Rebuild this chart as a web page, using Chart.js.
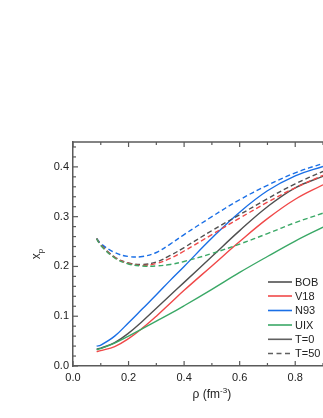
<!DOCTYPE html>
<html>
<head>
<meta charset="utf-8">
<script src="https://cdn.jsdelivr.net/npm/chart.js@4"></script>
<style>
html,body{margin:0;padding:0;background:#fff;overflow:hidden;}
#wrap{width:323px;height:418px;position:relative;}
</style>
</head>
<body>
<div id="wrap"><canvas id="c" width="323" height="418"></canvas></div>
<script>
// density grid (fm^-3)
const rho = [0.085, 0.1, 0.15, 0.2, 0.25, 0.3, 0.35, 0.4, 0.5, 0.6, 0.7, 0.8, 0.9];
// T = 0
const bobT0 = [0.034, 0.036, 0.047, 0.066, 0.090, 0.116, 0.142, 0.168, 0.220, 0.272, 0.320, 0.358, 0.381];
const v18T0 = [0.029, 0.031, 0.039, 0.055, 0.076, 0.100, 0.126, 0.152, 0.201, 0.250, 0.296, 0.335, 0.364];
const n93T0 = [0.040, 0.042, 0.060, 0.087, 0.115, 0.143, 0.172, 0.200, 0.257, 0.309, 0.352, 0.382, 0.401];
const uixT0 = [0.033, 0.035, 0.046, 0.060, 0.075, 0.090, 0.105, 0.121, 0.154, 0.188, 0.220, 0.251, 0.279];
// T = 50
const bobT50 = [0.256, 0.244, 0.219, 0.207, 0.204, 0.209, 0.222, 0.238, 0.272, 0.304, 0.336, 0.366, 0.391];
const v18T50 = [0.256, 0.243, 0.218, 0.206, 0.202, 0.206, 0.216, 0.231, 0.264, 0.297, 0.329, 0.358, 0.383];
const n93T50 = [0.256, 0.246, 0.228, 0.220, 0.220, 0.228, 0.245, 0.264, 0.300, 0.334, 0.363, 0.388, 0.407];
const uixT50 = [0.256, 0.242, 0.217, 0.205, 0.201, 0.201, 0.204, 0.210, 0.226, 0.245, 0.266, 0.288, 0.307];

const xTicks = [0, 0.2, 0.4, 0.6, 0.8];
const yTicks = [0, 0.1, 0.2, 0.3, 0.4];
const legendLabels = ['BOB', 'V18', 'N93', 'UIX', 'T=0', 'T=50'];

const COL = {bob:'#505050', v18:'#f04848', n93:'#1a6fe6', uix:'#3aa866', gray:'#606060'};
const FONT = '"Liberation Sans", Arial, sans-serif';

function pts(arr){ return rho.map((r,i)=>({x:r, y:arr[i]})); }
function ds(arr, color, dashed){
  return {data: pts(arr), borderColor: color, borderWidth: 1.4, pointRadius: 0,
    borderDash: dashed ? [5,3] : [], tension: 0.4, fill: false};
}

const datasets = [
  ds(uixT50, COL.uix, true), ds(v18T50, COL.v18, true), ds(bobT50, COL.bob, true), ds(n93T50, COL.n93, true),
  ds(uixT0, COL.uix, false), ds(v18T0, COL.v18, false), ds(bobT0, COL.bob, false), ds(n93T0, COL.n93, false)
];

const AX = '#5a5a5a';

const deco = {
  id: 'deco',
  afterDraw(chart){
    const ctx = chart.ctx, a = chart.chartArea;
    const xs = chart.scales.x, ys = chart.scales.y;
    ctx.save();
    ctx.strokeStyle = AX; ctx.lineWidth = 1.5;
    ctx.beginPath(); ctx.moveTo(a.left, a.top); ctx.lineTo(a.right+2, a.top); ctx.stroke();
    ctx.lineWidth = 1.2;
    for (let k=0; k<=9; k++){
      const v = k*0.1, px = xs.getPixelForValue(v);
      const len = (k%2===0) ? 5 : 3;
      if (px > a.right+1) continue;
      ctx.beginPath(); ctx.moveTo(px, a.bottom); ctx.lineTo(px, a.bottom-len); ctx.stroke();
      ctx.beginPath(); ctx.moveTo(px, a.top); ctx.lineTo(px, a.top+len); ctx.stroke();
    }
    for (let k=0; k<=22; k++){
      const v = k*0.02, py = ys.getPixelForValue(v);
      const len = (k%5===0) ? 5 : 3;
      ctx.beginPath(); ctx.moveTo(a.left, py); ctx.lineTo(a.left+len, py); ctx.stroke();
    }
    ctx.fillStyle = '#222';
    ctx.textBaseline = 'alphabetic';
    const cx = xs.getPixelForValue(0.5);
    const p1 = 'ρ (fm', p3 = ')';
    ctx.font = '12px ' + FONT; const w1 = ctx.measureText(p1).width, w3 = ctx.measureText(p3).width;
    ctx.font = '8px ' + FONT; const w2 = ctx.measureText('-3').width;
    let x0 = cx - (w1+w2+w3)/2, by = 398;
    ctx.textAlign = 'left';
    ctx.font = '12px ' + FONT; ctx.fillText(p1, x0, by);
    ctx.font = '8px ' + FONT; ctx.fillText('-3', x0+w1, by-5);
    ctx.font = '12px ' + FONT; ctx.fillText(p3, x0+w1+w2, by);
    ctx.save();
    ctx.translate(40, (a.top+a.bottom)/2);
    ctx.rotate(-Math.PI/2);
    ctx.font = '12px ' + FONT;
    const wx = ctx.measureText('x').width;
    ctx.font = '8px ' + FONT;
    const wp = ctx.measureText('p').width;
    const sx = -(wx+wp)/2;
    ctx.font = '12px ' + FONT; ctx.fillText('x', sx, 0);
    ctx.font = '8px ' + FONT; ctx.fillText('p', sx+wx, 3);
    ctx.restore();
    const ly = [282, 296, 310.5, 325, 339.3, 353.5];
    const lc = [COL.bob, COL.v18, COL.n93, COL.uix, COL.gray, COL.gray];
    ctx.font = '11px ' + FONT; ctx.textBaseline = 'middle'; ctx.textAlign = 'left';
    for (let i=0;i<legendLabels.length;i++){
      ctx.strokeStyle = lc[i]; ctx.lineWidth = 1.6;
      ctx.setLineDash(i===5 ? [5,3.5] : []);
      ctx.beginPath(); ctx.moveTo(268, ly[i]); ctx.lineTo(292, ly[i]); ctx.stroke();
      ctx.setLineDash([]);
      ctx.fillStyle = '#222';
      ctx.fillText(legendLabels[i], 295, ly[i]+0.5);
    }
    ctx.restore();
  }
};

new Chart(document.getElementById('c'), {
  type: 'line',
  data: {datasets},
  options: {
    responsive: false, animation: false, devicePixelRatio: 1,
    layout: {padding: {top: 142, left: 0, right: 0, bottom: 0}},
    plugins: {legend: {display: false}, tooltip: {enabled: false}},
    scales: {
      x: {
        type: 'linear', min: 0, max: 0.9,
        afterFit(s){ s.height = 52; },
        afterBuildTicks(s){ s.ticks = xTicks.map(v=>({value:v})); },
        grid: {display: false, drawTicks: false},
        border: {display: true, color: AX, width: 1.5},
        ticks: {padding: 5, color: '#222', font: {family: FONT, size: 11},
          maxRotation: 0, callback: v => v.toFixed(1)}
      },
      y: {
        type: 'linear', min: 0, max: 0.45,
        afterFit(s){ s.width = 73; },
        afterBuildTicks(s){ s.ticks = yTicks.map(v=>({value:v})); },
        grid: {display: false, drawTicks: false},
        border: {display: true, color: AX, width: 1.5},
        ticks: {padding: 4, color: '#222', font: {family: FONT, size: 11},
          callback: v => v.toFixed(1)}
      }
    }
  },
  plugins: [deco]
});
</script>
</body>
</html>
